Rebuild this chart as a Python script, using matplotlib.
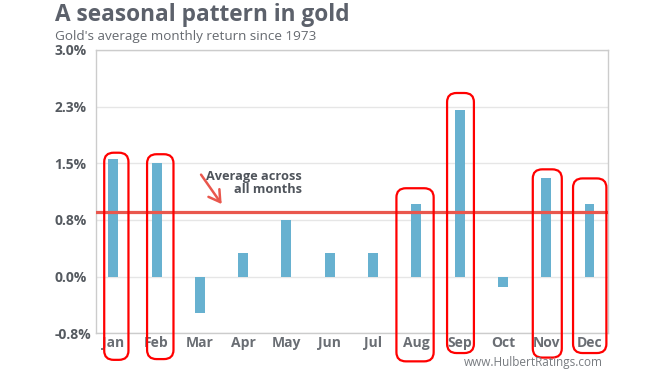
import matplotlib
matplotlib.use("Agg")
import matplotlib.pyplot as plt
from matplotlib.patches import FancyBboxPatch

plt.rcParams['font.family'] = ['Open Sans', 'DejaVu Sans']

months = ["Jan", "Feb", "Mar", "Apr", "May", "Jun",
          "Jul", "Aug", "Sep", "Oct", "Nov", "Dec"]
returns = [1.56, 1.50, -0.48, 0.31, 0.75, 0.31,
           0.31, 0.96, 2.20, -0.13, 1.30, 0.96]
average = 0.86
yticks = [-0.75, 0.0, 0.75, 1.5, 2.25, 3.0]
ytick_labels = ["-0.8%", "0.0%", "0.8%", "1.5%", "2.3%", "3.0%"]
# highlighted months: (index, top, bottom, left offset, right offset)
highlights = [(0, 1.64, -1.10, -0.21, 0.35),
              (1, 1.62, -1.09, -0.22, 0.39),
              (7, 1.17, -1.12, -0.46, 0.40),
              (8, 2.43, -1.01, -0.29, 0.33),
              (10, 1.42, -1.07, -0.31, 0.36),
              (11, 1.30, -1.01, -0.38, 0.39)]

fig = plt.figure(figsize=(6.68, 3.73), dpi=100)
ax = fig.add_axes([0.1437, 0.1062, 0.766, 0.76])

x = list(range(len(months)))
ax.bar(x, returns, width=0.23, color="#67b1d0", zorder=3)
ax.axhline(average, color="#e9574d", lw=2.3, zorder=4)

ax.set_xlim(-0.4, 11.42)
ax.set_ylim(-0.75, 3.0)
ax.set_yticks(yticks)
ax.set_yticklabels(ytick_labels, ha="left")
ax.set_xticks(x)
ax.set_xticklabels(months)
ax.tick_params(axis="y", length=0, pad=30, labelsize=10, labelcolor="#555a60")
ax.tick_params(axis="x", length=0, pad=2, labelsize=10, labelcolor="#6a6e74")
for lab in ax.get_xticklabels() + ax.get_yticklabels():
    lab.set_fontweight("bold")
ax.grid(axis="y", color="#e6e6e6", lw=1, zorder=0)
for s in ax.spines.values():
    s.set_color("#cccccc")
    s.set_linewidth(1)

for i, top, bottom, lo, hi in highlights:
    box = FancyBboxPatch((i + lo, bottom), hi - lo, top - bottom,
                         boxstyle="round,pad=0,rounding_size=0.22",
                         mutation_aspect=0.55, fill=False,
                         edgecolor="#ff0000", lw=1.6, clip_on=False, zorder=5)
    ax.add_patch(box)

ax.annotate("", xy=(2.54, 0.93), xytext=(1.99, 1.38),
            arrowprops=dict(arrowstyle="->,head_length=0.5,head_width=0.3",
                            color="#e9574d", lw=1.8, mutation_scale=16),
            zorder=5)
ax.text(4.36, 1.41, "Average across\nall months", ha="right", va="top",
        fontsize=9.2, fontweight="bold", color="#4f545b", linespacing=0.95)

fig.text(0.082, 0.992, "A seasonal pattern in gold", ha="left", va="top",
         fontsize=16.3, fontweight="bold", color="#5c616b")
fig.text(0.082, 0.92, "Gold's average monthly return since 1973", ha="left",
         va="top", fontsize=9.7, color="#666a70")
fig.text(0.903, 0.027, "www.HulbertRatings.com", ha="right", va="center",
         fontsize=8.5, color="#777b80")

fig.savefig("out.png", dpi=100)
